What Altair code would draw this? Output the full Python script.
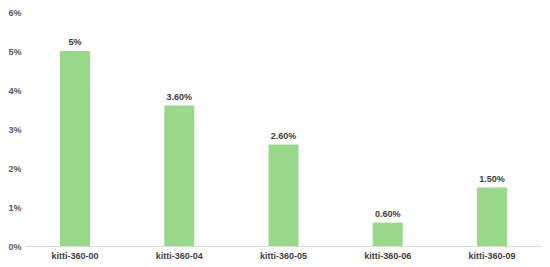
import altair as alt
import pandas as pd

sequences = ["kitti-360-00", "kitti-360-04", "kitti-360-05", "kitti-360-06", "kitti-360-09"]
values = [0.05, 0.036, 0.026, 0.006, 0.015]
value_labels = ["5%", "3.60%", "2.60%", "0.60%", "1.50%"]
y_ticks = [0, 0.01, 0.02, 0.03, 0.04, 0.05, 0.06]

df = pd.DataFrame({"seq": sequences, "val": values, "lbl": value_labels})

base = alt.Chart(df).encode(
    x=alt.X("seq:N", sort=sequences, title=None,
            scale=alt.Scale(paddingInner=0.712, paddingOuter=0.336),
            axis=alt.Axis(labelAngle=0, ticks=False, domainColor="#d9d9d9",
                          labelFont="Liberation Sans", labelFontWeight="bold",
                          labelFontSize=9, labelColor="#404040", labelPadding=5)),
    y=alt.Y("val:Q", title=None,
            scale=alt.Scale(domain=[0, 0.06], nice=False),
            axis=alt.Axis(values=y_ticks, labelExpr="round(datum.value*100) + '%'",
                          grid=False, domain=False, ticks=False,
                          labelFont="Liberation Sans", labelFontWeight="bold",
                          labelFontSize=9, labelColor="#595959", labelPadding=4)),
)

bars = base.mark_bar(color="#97D889")
text = base.mark_text(dy=-4, baseline="bottom", font="Liberation Sans",
                      fontWeight="bold", fontSize=9, color="#404040").encode(text="lbl:N")

chart = (bars + text).properties(
    width=517, height=234,
    padding={"left": 17, "top": 4, "right": 0, "bottom": 13},
    autosize=alt.AutoSizeParams(type="none"),
    background="white",
).configure_view(stroke=None)

chart.save("out.html", embed_options={"renderer": "svg", "actions": False})
